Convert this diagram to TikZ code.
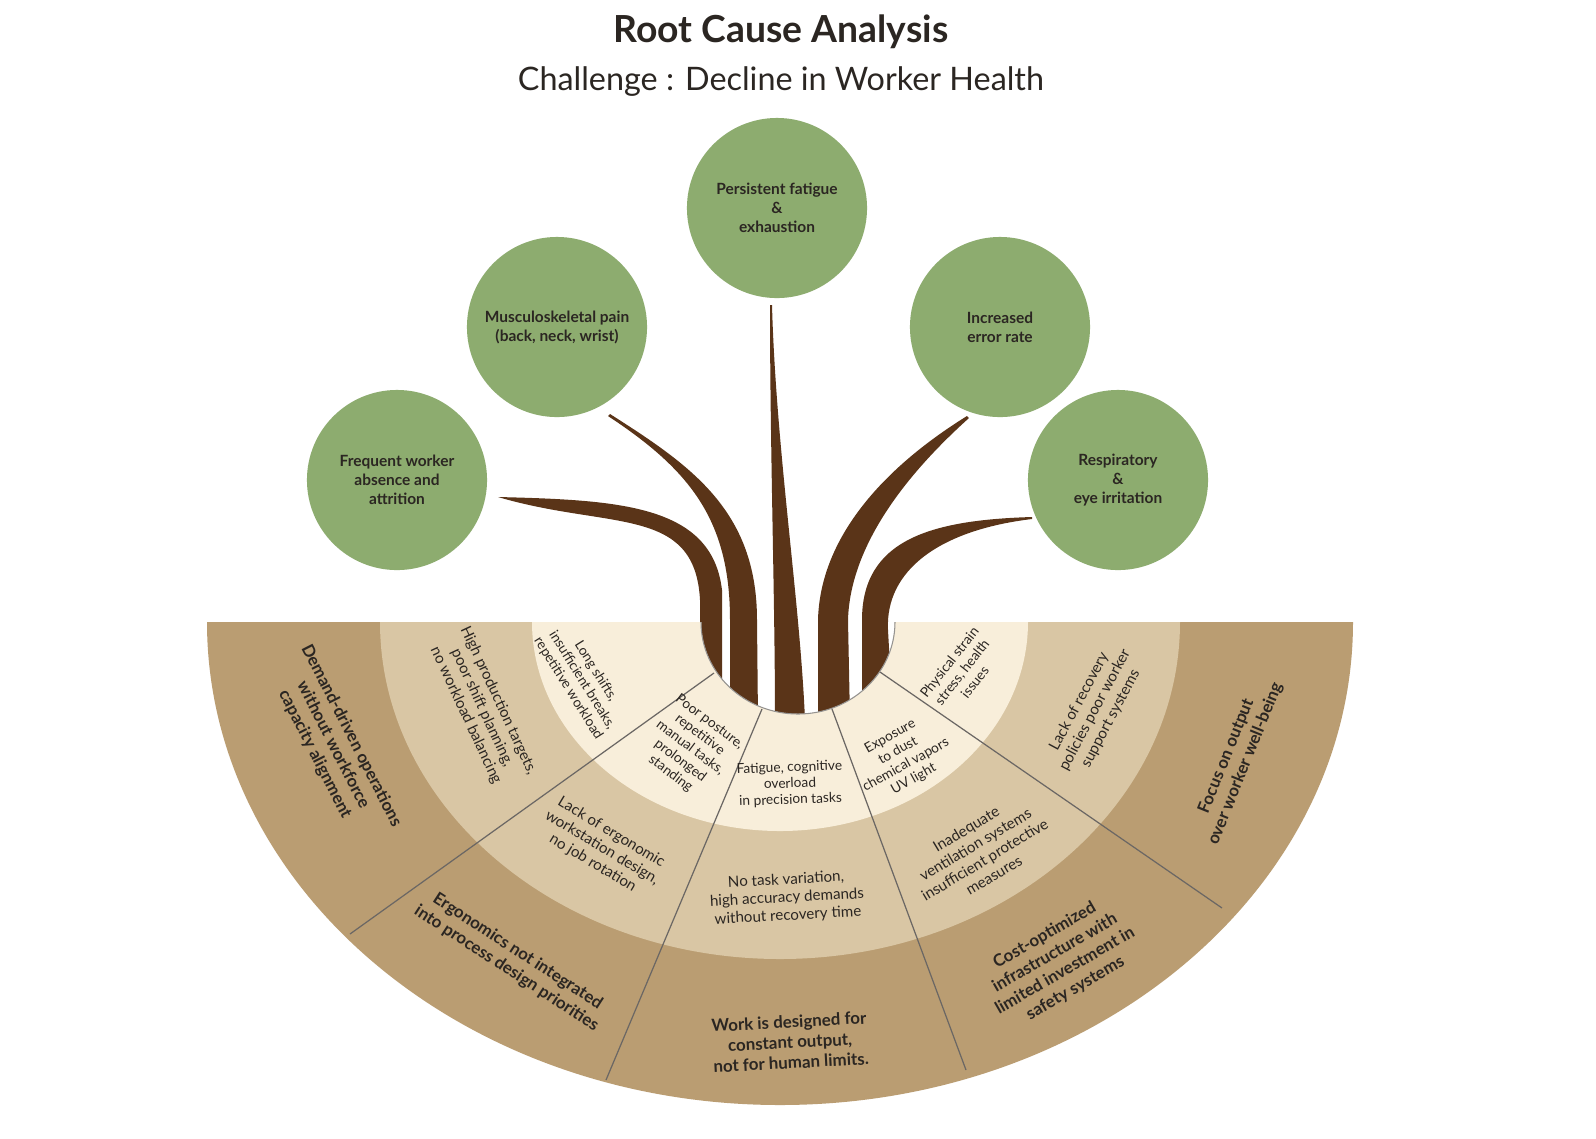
\documentclass[tikz,border=0pt]{standalone}
\usepackage{fontspec}
\setmainfont{Lato}
\definecolor{leaf}{HTML}{8DAC6F}
\definecolor{bark}{HTML}{5A3418}
\definecolor{ringout}{HTML}{BA9D72}
\definecolor{ringmid}{HTML}{D9C6A4}
\definecolor{ringin}{HTML}{F8EEDA}
\definecolor{ink}{HTML}{2B2622}
\tikzset{
	effect/.style={circle,fill=leaf,minimum size=1.8cm,inner sep=0pt,align=center,text=ink,font=\fontsize{4.4}{5.4}\selectfont\bfseries},
	outtxt/.style={align=center,text=ink,font=\fontsize{4.8}{5.8}\selectfont\bfseries},
	midtxt/.style={align=center,text=ink,font=\fontsize{4.3}{5.1}\selectfont},
	intxt/.style={align=center,text=ink,font=\fontsize{3.9}{4.6}\selectfont},
	spoke/.style={draw=ink!70,line width=0.35pt},
}
\begin{document}
\begin{tikzpicture}[
		x={(0.01cm,0cm)},
		y={(0cm,-0.01cm)},
	]
	\useasboundingbox[fill=white] (0,0) rectangle (1596,1138);
	
	\node[font=\fontsize{10.6}{12}\selectfont\bfseries,text=ink] (title) at (781,32) {Root Cause Analysis};
	\node[font=\fontsize{9.2}{11}\selectfont,text=ink] (challenge) at (781,82) {Challenge : Decline in Worker Health};
	
	% roots
	\fill[bark] (770,305) .. controls (770,450) and (775,600) .. (775,720) -- (805,720) .. controls (800,600) and (776,450) .. (772,305) -- cycle;
	\fill[bark] (608,416) .. controls (690,470) and (730,520) .. (730,620) -- (730,720) -- (758,720) -- (757,620) .. controls (757,510) and (690,465) .. (610,414) -- cycle;
	\fill[bark] (498,497) .. controls (610,530) and (695,505) .. (700,600) -- (700,720) -- (722,720) -- (722,590) .. controls (712,505) and (620,500) .. (498,497) -- cycle;
	\fill[bark] (967,416) .. controls (880,470) and (820,540) .. (818,620) -- (818,720) -- (850,720) -- (848,620) .. controls (850,550) and (900,480) .. (969,418) -- cycle;
	\fill[bark] (1032,517) .. controls (930,520) and (862,540) .. (862,620) -- (862,720) -- (893,720) -- (888,630) .. controls (885,570) and (940,530) .. (1032,519) -- cycle;
	
	% fan
	\begin{scope}
		\clip (0,622) rectangle (1596,1138);
		\fill[ringout,even odd rule] (780,622) ellipse [x radius=573,y radius=483] (798,622) ellipse [x radius=97,y radius=92];
		\fill[ringmid,even odd rule] (780,622) ellipse [x radius=400,y radius=337] (798,622) ellipse [x radius=97,y radius=92];
		\fill[ringin,even odd rule] (780,622) ellipse [x radius=248,y radius=209] (798,622) ellipse [x radius=97,y radius=92];
		\draw[ink!50,line width=0.3pt] (798,622) ellipse [x radius=97,y radius=92];
	\end{scope}
	\coordinate (h1) at (714,673); \coordinate (o1) at (350,934);
	\coordinate (h2) at (762,709); \coordinate (o2) at (606,1080);
	\coordinate (h3) at (832,709); \coordinate (o3) at (966,1070);
	\coordinate (h4) at (880,672); \coordinate (o4) at (1222,908);
	\foreach \i in {1,...,4}{
		\draw[spoke] (h\i) -- (o\i);
	}
	
	% effects
	\foreach \n/\x/\y/\t in {absence/397/480/{Frequent worker\\absence and\\attrition},
		pain/557/327/{Musculoskeletal pain\\(back, neck, wrist)},
		fatigue/777/208/{Persistent fatigue\\\&\\exhaustion},
		error/1000/327/{Increased\\error rate},
		irritation/1118/480/{Respiratory\\\&\\eye irritation}}{
		\node[effect] (\n) at (\x,\y) {\t};
	}
	
	% causes
	\node[intxt,rotate=-58] (shifts) at (582,680) {Long shifts,\\insufficient breaks,\\repetitive workload};
	\node[intxt,rotate=-37] (posture) at (690,748) {Poor posture,\\repetitive\\manual tasks,\\prolonged\\standing};
	\node[intxt,rotate=2] (overload) at (790,784) {Fatigue, cognitive\\overload\\in precision tasks};
	\node[intxt,rotate=29] (exposure) at (902,758) {Exposure\\to dust\\chemical vapors\\UV light};
	\node[intxt,rotate=52] (strain) at (962,672) {Physical strain\\stress, health\\issues};
	
	\node[midtxt,rotate=-65] (targets) at (482,708) {High production targets,\\poor shift planning,\\no workload balancing};
	\node[midtxt,rotate=-31] (ergo) at (602,848) {Lack of ergonomic\\workstation design,\\no job rotation};
	\node[midtxt,rotate=3] (variation) at (787,898) {No task variation,\\high accuracy demands\\without recovery time};
	\node[midtxt,rotate=31] (ventilation) at (980,852) {Inadequate\\ventilation systems\\insufficient protective\\measures};
	\node[midtxt,rotate=62] (recovery) at (1095,710) {Lack of recovery\\policies poor worker\\support systems};
	
	\node[outtxt,rotate=-63] (demand) at (333,745) {Demand-driven operations\\without workforce\\capacity alignment};
	\node[outtxt,rotate=-33] (integrated) at (512,960) {Ergonomics not integrated\\into process design priorities};
	\node[outtxt,rotate=3] (designed) at (790,1042) {Work is designed for\\constant output,\\not for human limits.};
	\node[outtxt,rotate=30] (costopt) at (1060,962) {Cost-optimized\\infrastructure with\\limited investment in\\safety systems};
	\node[outtxt,rotate=68] (focus) at (1236,760) {Focus on output\\over worker well-being};
\end{tikzpicture}
\end{document}
